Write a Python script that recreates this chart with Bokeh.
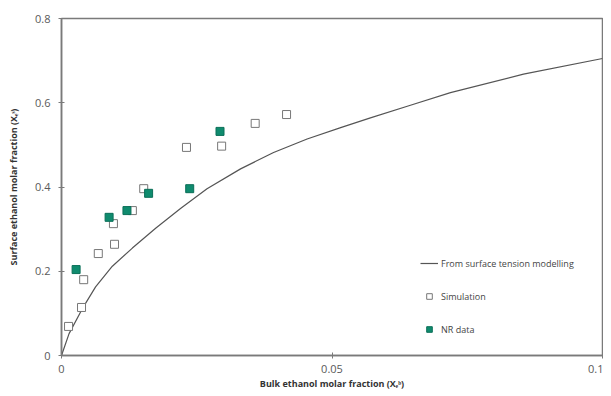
from bokeh.plotting import figure
from bokeh.models import Range1d, FixedTicker, Legend, LegendItem
from bokeh.embed import file_html
from bokeh.resources import INLINE

# --- data ---
model_x = [0.0, 0.0014, 0.0038, 0.0063, 0.0094, 0.0131, 0.0174, 0.0220, 0.0269, 0.0331,
           0.0392, 0.0454, 0.0516, 0.0571, 0.0645, 0.0719, 0.0854, 0.1]
model_y = [0.0, 0.052, 0.110, 0.163, 0.212, 0.255, 0.302, 0.349, 0.396, 0.443,
           0.482, 0.514, 0.541, 0.564, 0.594, 0.624, 0.668, 0.705]

sim_x = [0.0013, 0.0037, 0.0041, 0.0068, 0.0098, 0.0096, 0.0131, 0.0152, 0.0231, 0.0296, 0.0358, 0.0416]
sim_y = [0.069, 0.114, 0.180, 0.242, 0.264, 0.313, 0.344, 0.396, 0.494, 0.497, 0.551, 0.572]

nr_x = [0.0027, 0.0088, 0.0121, 0.0161, 0.0237, 0.0293]
nr_y = [0.204, 0.328, 0.344, 0.385, 0.396, 0.532]

x_ticks = [0, 0.05, 0.1]
x_tick_labels = ["0", "0.05", "0.1"]
y_ticks = [0, 0.2, 0.4, 0.6, 0.8]
y_tick_labels = ["0", "0.2", "0.4", "0.6", "0.8"]

FONT = "Open Sans"
AXC = "#7a7a7a"

p = figure(width=603, height=392, output_backend="svg", toolbar_location=None,
           x_range=Range1d(0, 0.1), y_range=Range1d(0, 0.8),
           min_border_left=61, min_border_right=1, min_border_top=18, min_border_bottom=37)
p.background_fill_color = "white"
p.border_fill_color = "white"
p.outline_line_color = AXC
p.outline_line_width = 1.5
p.xgrid.visible = False
p.ygrid.visible = False

p.xaxis.ticker = FixedTicker(ticks=x_ticks)
p.xaxis.major_label_overrides = {t: l for t, l in zip(x_ticks, x_tick_labels)}
p.yaxis.ticker = FixedTicker(ticks=y_ticks)
p.yaxis.major_label_overrides = {t: l for t, l in zip(y_ticks, y_tick_labels)}

for ax in (p.xaxis, p.yaxis):
    ax.axis_line_color = AXC
    ax.axis_line_width = 1.5
    ax.major_tick_line_color = AXC
    ax.major_tick_in = 3
    ax.major_tick_out = 3
    ax.minor_tick_line_color = None
    ax.major_label_text_font = FONT
    ax.major_label_text_font_size = "11px"
    ax.major_label_text_color = "#595959"
    ax.axis_label_text_font = FONT
    ax.axis_label_text_font_size = "9px"
    ax.axis_label_text_font_style = "bold"
    ax.axis_label_text_color = "#333333"

p.xaxis.axis_label = "Bulk ethanol molar fraction (X\u2091\u1d47)"
p.yaxis.axis_label = "Surface ethanol molar fraction (X\u2091\u02e2)"
p.xaxis.major_label_standoff = 6
p.xaxis.axis_label_standoff = 1
p.yaxis.major_label_standoff = 8
p.yaxis.axis_label_standoff = 12

r_line = p.line(model_x, model_y, line_color="#555555", line_width=1.2)
r_sim = p.scatter(sim_x, sim_y, marker="square", size=8, fill_color="white",
                  line_color="#777777", line_width=1)
r_nr = p.scatter(nr_x, nr_y, marker="square", size=8, fill_color="#0f8b6e",
                 line_color="#0b6f58", line_width=1)

legend = Legend(items=[
    LegendItem(label="From surface tension modelling", renderers=[r_line]),
    LegendItem(label="Simulation", renderers=[r_sim]),
    LegendItem(label="NR data", renderers=[r_nr]),
], location=(359, 19))
legend.border_line_color = None
legend.background_fill_alpha = 0
legend.padding = 0
legend.margin = 0
legend.spacing = 19
legend.glyph_width = 18
legend.glyph_height = 14
legend.label_height = 14
legend.label_standoff = 3
legend.label_text_font = FONT
legend.label_text_font_size = "9px"
legend.label_text_color = "#444444"
p.add_layout(legend, "center")

open("out.html", "w").write(file_html(p, INLINE))
